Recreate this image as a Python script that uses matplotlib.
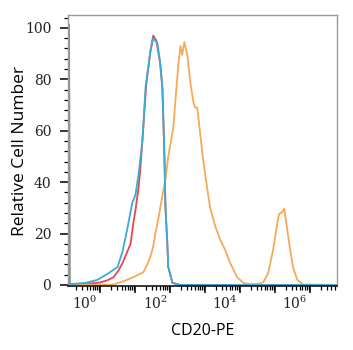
import matplotlib
matplotlib.use("Agg")
import matplotlib.pyplot as plt
from matplotlib.ticker import LogLocator, NullFormatter, MultipleLocator
import numpy as np

# fluorescence positions in log10 units, counts as % of max
iso_red_log = [-0.9, -0.886, -0.8, -0.29, 0.0, 0.23, 0.37, 0.51, 0.63, 0.74, 0.86, 0.94, 1.0,
               1.09, 1.14, 1.23, 1.31, 1.43, 1.51, 1.6, 1.71, 1.77, 1.8, 1.83, 1.86, 1.91, 1.94,
               2.06, 2.29, 6.77]
iso_red_cnt = [101, 0.4, 0.3, 0.6, 1, 2, 3, 5.5, 8.5, 12, 16, 24, 29,
               38, 45, 62, 78, 91, 97, 95, 86, 77, 64, 50, 30, 17, 7,
               0.8, 0, 0]

iso_blue_log = [-0.9, -0.886, -0.8, -0.43, -0.09, 0.2, 0.49, 0.63, 0.77, 0.91, 1.0, 1.09, 1.2,
                1.29, 1.43, 1.51, 1.63, 1.71, 1.77, 1.8, 1.83, 1.86, 1.91, 1.94, 2.06, 2.29, 6.77]
iso_blue_cnt = [101, 0.4, 0.4, 0.8, 2, 4.3, 7, 13, 22, 32, 35, 43, 56,
                77, 91, 96, 94, 86, 77, 64, 50, 30, 17, 7, 0.8, 0, 0]

cd20_log = [-0.9, -0.886, 0.0, 0.37, 0.66, 0.94, 1.23, 1.34, 1.43, 1.51, 1.57, 1.66, 1.71,
            1.8, 1.86, 1.94, 2.03, 2.09, 2.14, 2.23, 2.29, 2.34, 2.4, 2.49, 2.57, 2.66, 2.71,
            2.77, 2.86, 2.94, 3.06, 3.14, 3.29, 3.43, 3.57, 3.71, 3.91, 4.09, 4.29, 4.49, 4.66,
            4.8, 4.94, 5.06, 5.11, 5.2, 5.26, 5.31, 5.4, 5.51, 5.63, 5.8, 6.77]
cd20_cnt = [101, 0.3, 0, 0.2, 1.5, 3, 5, 8, 11, 15, 20, 26, 30,
            37, 41, 50, 57, 62, 71, 86, 93, 89.5, 94.5, 89, 79, 71, 69,
            69, 58, 48.6, 37, 30, 22.6, 17.5, 13.6, 8.6, 3, 0.8, 0.3, 0.4, 1,
            4.7, 13.6, 24, 27.5, 28.4, 29.6, 25, 16.3, 7, 2, 0.2, 0]

label_decades = [0, 2, 4, 6]

plt.rcParams['mathtext.fontset'] = 'dejavuserif'

fig = plt.figure(figsize=(3.53, 3.5), dpi=100)
ax = fig.add_axes([68 / 353, 64 / 350, 269 / 353, 271 / 350])

lw = 1.3
ax.plot(10 ** np.array(iso_red_log), iso_red_cnt, color='#e8474a', lw=lw)
ax.plot(10 ** np.array(cd20_log), cd20_cnt, color='#f6a956', lw=lw)
ax.plot(10 ** np.array(iso_blue_log), iso_blue_cnt, color='#38acd8', lw=lw)

ax.set_xscale('log')
ax.set_xlim(10 ** -0.93, 10 ** 6.77)
ax.set_ylim(-0.4, 105)

ax.xaxis.set_major_locator(LogLocator(base=10, numticks=20))
ax.xaxis.set_minor_locator(LogLocator(base=10, subs=np.arange(2, 10), numticks=20))
ax.xaxis.set_major_formatter(NullFormatter())
ax.xaxis.set_minor_formatter(NullFormatter())
ax.yaxis.set_major_locator(MultipleLocator(20))
ax.yaxis.set_minor_locator(MultipleLocator(4))

ax.tick_params(axis='both', which='major', direction='out', length=5, width=1.1, color='black')
ax.tick_params(axis='both', which='minor', direction='out', length=3, width=0.9, color='black')
ax.tick_params(axis='y', which='major', length=6, pad=6)
for lab in ax.get_yticklabels():
    lab.set_family('DejaVu Serif')
    lab.set_fontsize(10)
    lab.set_color('#222222')

# decade labels sit just left of their tick
for k in label_decades:
    ax.annotate(r'$10^{%d}$' % k, xy=(10 ** k, 0), xycoords=('data', 'axes fraction'),
                xytext=(-2, -6), textcoords='offset points', ha='right', va='top',
                fontsize=10, color='#222222')

for side in ['top', 'right', 'left']:
    ax.spines[side].set_color('#9a9a9a')
    ax.spines[side].set_linewidth(1.0)
ax.spines['bottom'].set_color('black')
ax.spines['bottom'].set_linewidth(1.1)

ax.set_ylabel('Relative Cell Number', family='Open Sans', fontsize=12.5, labelpad=-2)
ax.set_xlabel('CD20-PE', family='Open Sans', fontsize=11.5, labelpad=18)

fig.savefig('out.png', dpi=100)
